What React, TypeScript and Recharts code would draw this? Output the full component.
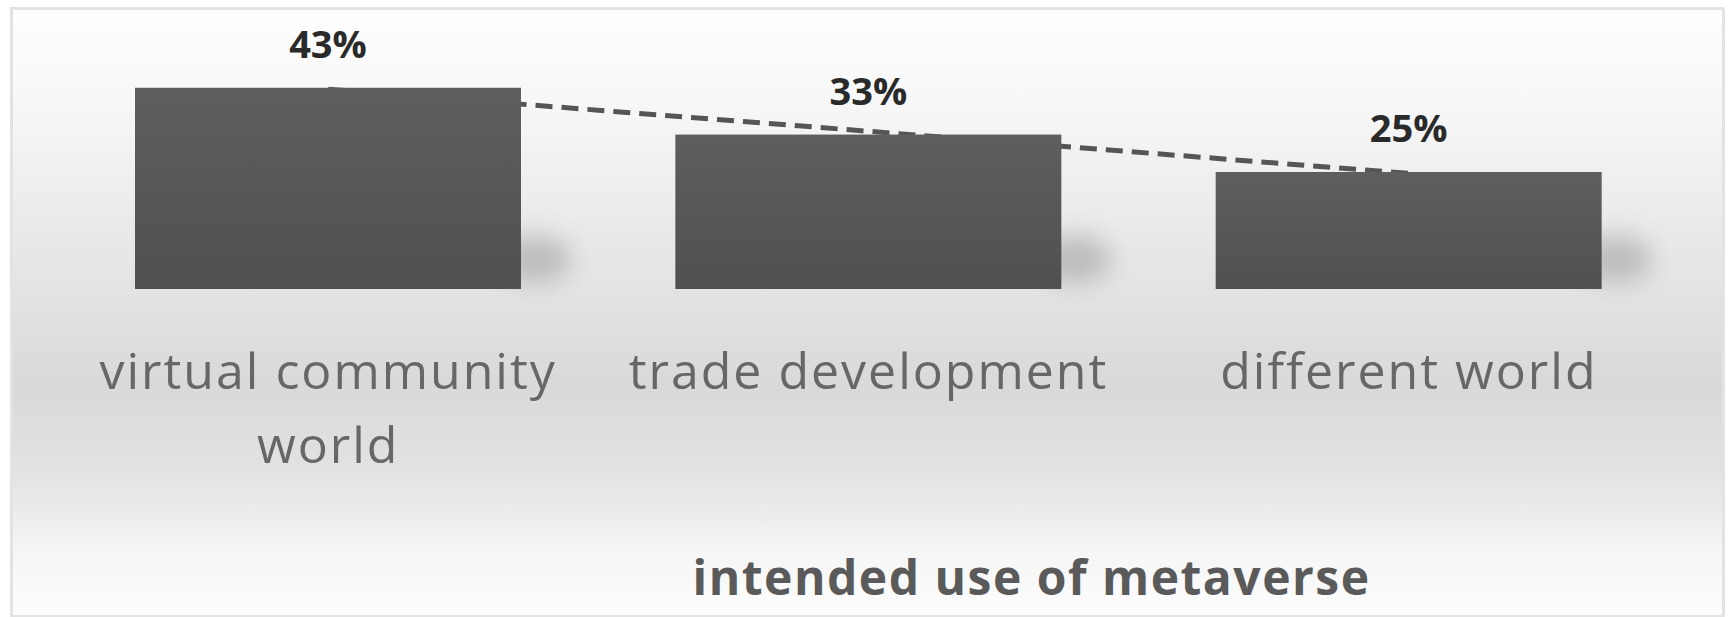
import React from 'react';
import { ComposedChart, Bar, Line, XAxis, YAxis, LabelList } from 'recharts';

// categories shown on the x axis (line breaks as in the picture)
const categories = ['virtual community|world', 'trade development', 'different world'];
// share of respondents, %
const shares = [43, 33, 25];
// linear trend line values
const trendValues = [42.7, 33.7, 24.7];
const axisTitle = 'intended use of metaverse';

const chartData = categories.map((name, i) => ({
  name,
  share: shares[i],
  trend: trendValues[i],
}));

const CategoryTick = (props: any) => {
  const { x, y, payload } = props;
  const lines: string[] = String(payload.value).split('|');
  return (
    <g>
      {lines.map((line, i) => (
        <text
          key={i}
          x={x}
          y={y + 100 + i * 74}
          textAnchor="middle"
          fill="#676767"
          fontSize={50}
          letterSpacing={2}
          fontFamily="'Open Sans', sans-serif"
        >
          {line}
        </text>
      ))}
    </g>
  );
};

const ShadowBar = (props: any) => {
  const { x, y, width, height } = props;
  return (
    <g>
      <ellipse
        cx={x + width + 14}
        cy={y + height - 30}
        rx={36}
        ry={24}
        fill="#8a8a8a"
        opacity={0.45}
        filter="url(#barShadow)"
      />
      <rect x={x} y={y} width={width} height={height} fill="url(#barFill)" />
    </g>
  );
};

export default function App() {
  return (
    <div style={{ position: 'absolute', left: 0, top: 0, width: 1729, height: 617, background: '#ffffff' }}>
      <div
        style={{
          position: 'absolute',
          left: 10,
          top: 7,
          width: 1709,
          height: 605,
          border: '3px solid #e3e3e3',
          background:
            'linear-gradient(to bottom, #fefefe 0%, #f8f8f8 14%, #e6e6e6 42%, #d9d9d9 62%, #e2e2e2 76%, #f6f6f6 90%, #fdfdfd 100%)',
        }}
      />
      <div style={{ position: 'absolute', left: 0, top: 0 }}>
        <ComposedChart
          width={1729}
          height={617}
          data={chartData}
          margin={{ top: 55, right: 50, bottom: 22, left: 58 }}
        >
          <defs>
            <linearGradient id="barFill" x1="0" y1="0" x2="0" y2="1">
              <stop offset="0%" stopColor="#5e5e5e" />
              <stop offset="100%" stopColor="#505050" />
            </linearGradient>
            <filter id="barShadow" x="-100%" y="-100%" width="300%" height="300%">
              <feGaussianBlur stdDeviation="12" />
            </filter>
          </defs>
          <XAxis
            dataKey="name"
            axisLine={false}
            tickLine={false}
            tickSize={0}
            tickMargin={0}
            height={306}
            interval={0}
            tick={<CategoryTick />}
            label={{
              value: axisTitle,
              position: 'insideBottom',
              offset: 0,
              dx: 163,
              fill: '#5a5a5a',
              fontSize: 48,
              letterSpacing: 1.5,
              fontWeight: 700,
              fontFamily: "'Open Sans', sans-serif",
            }}
          />
          <YAxis hide domain={[0, 50]} />
          <Line
            dataKey="trend"
            type="linear"
            stroke="#555555"
            strokeWidth={5}
            strokeDasharray="17 9"
            dot={false}
            activeDot={false}
            zIndex={100}
            isAnimationActive={false}
          />
          <Bar dataKey="share" barSize={386} shape={<ShadowBar />} zIndex={300} isAnimationActive={false}>
            <LabelList
              dataKey="share"
              position="top"
              offset={30}
              formatter={(v: any) => `${v}%`}
              fill="#2a2a2a"
              fontSize={38}
              fontWeight={700}
              fontFamily="'Open Sans', sans-serif"
            />
          </Bar>
        </ComposedChart>
      </div>
    </div>
  );
}
